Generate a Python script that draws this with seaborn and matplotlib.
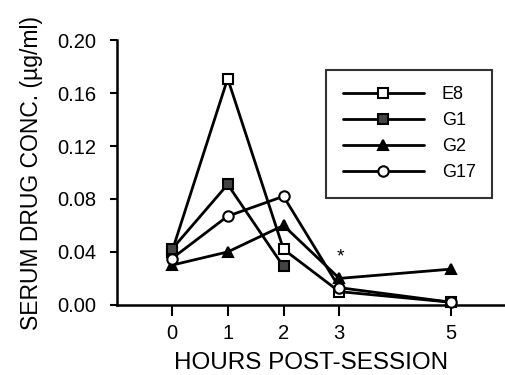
import matplotlib
matplotlib.use("Agg")
import matplotlib.pyplot as plt
import seaborn as sns
import pandas as pd

sns.set_theme(style="ticks")
plt.rcParams['font.family'] = ['Liberation Sans', 'DejaVu Sans']
plt.rcParams['text.color'] = 'black'
plt.rcParams['axes.labelcolor'] = 'black'
plt.rcParams['xtick.color'] = 'black'
plt.rcParams['ytick.color'] = 'black'

hours_e8 = [0, 1, 2, 3, 5]
e8 = [0.040, 0.171, 0.042, 0.010, 0.002]
hours_g1 = [0, 1, 2]
g1 = [0.042, 0.091, 0.029]
hours_g2 = [0, 1, 2, 3, 5]
g2 = [0.030, 0.040, 0.060, 0.020, 0.027]
hours_g17 = [0, 1, 2, 3, 5]
g17 = [0.035, 0.067, 0.082, 0.013, 0.002]

x_ticks = [0, 1, 2, 3, 5]
y_ticks = [0.00, 0.04, 0.08, 0.12, 0.16, 0.20]

series = [
    ("E8", hours_e8, e8, dict(marker="s", mfc="white")),
    ("G1", hours_g1, g1, dict(marker="s", mfc="#444444")),
    ("G2", hours_g2, g2, dict(marker="^", mfc="black")),
    ("G17", hours_g17, g17, dict(marker="o", mfc="white")),
]

fig = plt.figure(figsize=(5.05, 3.75), dpi=100)
ax = fig.add_axes([0.232, 0.187, 0.766, 0.706])

for name, xs, ys, st in series:
    df = pd.DataFrame({"x": xs, "y": ys})
    sns.lineplot(data=df, x="x", y="y", ax=ax, color="black", lw=2.0,
                 marker=st["marker"], markersize=7.5, markerfacecolor=st["mfc"],
                 markeredgecolor="black", markeredgewidth=1.5, label=name,
                 clip_on=False, zorder=3)

ax.text(3.02, 0.036, "*", ha="center", va="center", fontsize=14, color="black")

ax.set_xlim(-0.98, 5.95)
ax.set_ylim(0, 0.20)
ax.set_xticks(x_ticks)
ax.set_yticks(y_ticks)
ax.set_yticklabels([f"{v:.2f}" for v in y_ticks])
ax.tick_params(axis="both", labelsize=14.5, colors="black", width=1.5)
ax.tick_params(axis="x", length=8, pad=6)
ax.tick_params(axis="y", length=5, pad=10)
for s in ["top", "right"]:
    ax.spines[s].set_visible(False)
for s in ["left", "bottom"]:
    ax.spines[s].set_linewidth(1.8)
    ax.spines[s].set_color("black")

ax.set_xlabel("HOURS POST-SESSION", fontsize=17.5, labelpad=6)
ax.set_ylabel("SERUM DRUG CONC. (µg/ml)", fontsize=16.5, labelpad=10)

leg = ax.legend(loc="upper left", bbox_to_anchor=(0.541, 0.887), frameon=True,
                fancybox=False, edgecolor="black", fontsize=13,
                handlelength=4.5, handletextpad=1.0, borderpad=0.9,
                labelspacing=0.5, borderaxespad=0)
leg.get_frame().set_linewidth(1.5)

fig.savefig("out.png", dpi=100)
